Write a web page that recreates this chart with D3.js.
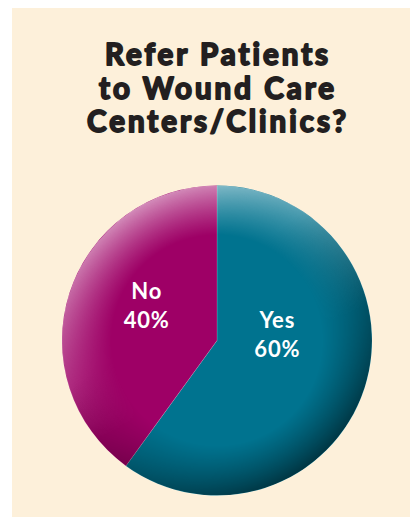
<!DOCTYPE html>
<html>
<head>
<meta charset="utf-8">
<script src="https://cdn.jsdelivr.net/npm/d3@7"></script>
<style>
  body { margin: 0; background: #fff; }
  svg { display: block; }
</style>
</head>
<body>
<div id="chart"></div>
<script>
// chart values
const titleLines = ["Refer Patients", "to Wound Care", "Centers/Clinics?"];
const answers = ["Yes", "No"];
const shares = [60, 40];
const sliceColors = ["#00738f", "#9e0066"];

const width = 410, height = 517;
const cx = 217, cy = 340.5, radius = 155;

const svg = d3.select("#chart").append("svg")
    .attr("width", width)
    .attr("height", height);

// cream panel
svg.append("rect")
    .attr("x", 12).attr("y", 8)
    .attr("width", width - 12).attr("height", height - 8)
    .attr("fill", "#fdf0da");

// title (no black weight installed, so thicken with a stroke)
svg.append("g")
    .attr("class", "title")
    .selectAll("text")
    .data(titleLines)
    .enter().append("text")
    .attr("x", 218)
    .attr("y", (d, i) => 65 + i * 33.5)
    .attr("text-anchor", "middle")
    .attr("font-family", "Lato, 'Open Sans', sans-serif")
    .attr("font-weight", 700)
    .attr("font-size", 29.5)
    .attr("letter-spacing", 3)
    .attr("fill", "#231f20")
    .attr("stroke", "#231f20")
    .attr("stroke-width", 1.9)
    .attr("stroke-linejoin", "round")
    .text(d => d);

const defs = svg.append("defs");

// rim mask: only the outer band of the disc gets shading
const rim = defs.append("radialGradient")
    .attr("id", "rimGrad")
    .attr("gradientUnits", "userSpaceOnUse")
    .attr("cx", 0).attr("cy", 0).attr("r", radius);
rim.append("stop").attr("offset", "0%").attr("stop-color", "#000");
rim.append("stop").attr("offset", "68%").attr("stop-color", "#000");
rim.append("stop").attr("offset", "100%").attr("stop-color", "#fff");

defs.append("mask").attr("id", "rimMask")
    .attr("maskUnits", "userSpaceOnUse")
    .attr("x", -radius).attr("y", -radius)
    .attr("width", radius * 2).attr("height", radius * 2)
    .append("circle").attr("r", radius).attr("fill", "url(#rimGrad)");

// light from the top left
const light = defs.append("linearGradient")
    .attr("id", "lightSide")
    .attr("x1", 0.25).attr("y1", 0).attr("x2", 0.55).attr("y2", 0.6);
light.append("stop").attr("offset", "0%").attr("stop-color", "#fff").attr("stop-opacity", 0.6);
light.append("stop").attr("offset", "100%").attr("stop-color", "#fff").attr("stop-opacity", 0);

// shade toward the bottom right
const dark = defs.append("linearGradient")
    .attr("id", "darkSide")
    .attr("x1", 0.35).attr("y1", 0.4).attr("x2", 0.8).attr("y2", 1);
dark.append("stop").attr("offset", "0%").attr("stop-color", "#000").attr("stop-opacity", 0);
dark.append("stop").attr("offset", "100%").attr("stop-color", "#000").attr("stop-opacity", 0.6);

const pie = d3.pie().sort(null).value(d => d.value);
const arc = d3.arc().innerRadius(0).outerRadius(radius);

const data = answers.map((a, i) => ({label: a, value: shares[i], color: sliceColors[i]}));
const arcs = pie(data);

const g = svg.append("g").attr("transform", `translate(${cx},${cy})`);

g.selectAll(".slice")
    .data(arcs)
    .enter().append("path")
    .attr("class", "slice")
    .attr("d", arc)
    .attr("fill", d => d.data.color)
    .attr("stroke", "rgba(255,255,255,0.15)")
    .attr("stroke-width", 1);

const shade = g.append("g").attr("mask", "url(#rimMask)");
shade.append("circle").attr("r", radius).attr("fill", "url(#lightSide)");
shade.append("circle").attr("r", radius).attr("fill", "url(#darkSide)");

// labels, nudged from the centroid the way the original was laid out
const labelArc = d3.arc().innerRadius(0).outerRadius(radius * 0.9);
const nudge = {Yes: [-6, -31], No: [-4, -17]};

const labels = g.selectAll(".label")
    .data(arcs)
    .enter().append("text")
    .attr("class", "label")
    .attr("transform", d => {
        const c = labelArc.centroid(d);
        const n = nudge[d.data.label];
        return `translate(${c[0] + n[0]},${c[1] + n[1]})`;
    })
    .attr("text-anchor", "middle")
    .attr("font-family", "Lato, 'Open Sans', sans-serif")
    .attr("font-weight", 700)
    .attr("font-size", 22)
    .attr("letter-spacing", 0.8)
    .attr("fill", "#fff");

labels.append("tspan").attr("x", 0).attr("dy", "-0.15em").text(d => d.data.label);
labels.append("tspan").attr("x", 0).attr("dy", "1.33em").text(d => d.data.value + "%");
</script>
</body>
</html>
